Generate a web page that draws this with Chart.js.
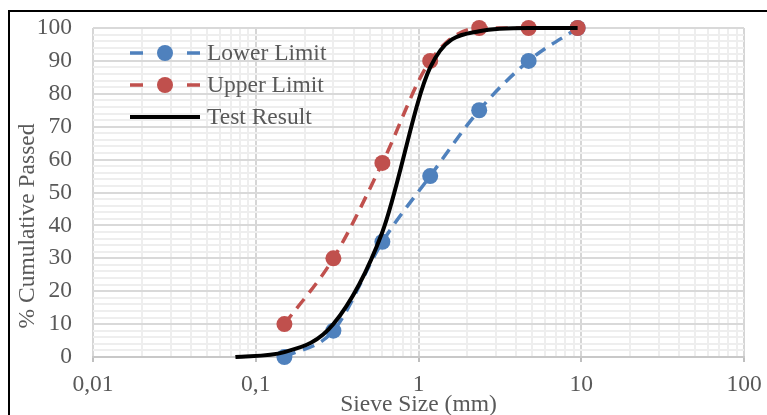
<!DOCTYPE html>
<html>
<head>
<meta charset="utf-8">
<title>Sieve analysis</title>
<script src="https://cdn.jsdelivr.net/npm/chart.js@4/dist/chart.umd.min.js"></script>
<style>
  html, body { margin: 0; padding: 0; background: #fff; overflow: hidden; }
  #frame { position: absolute; left: 8px; top: 10px; width: 900px; height: 500px; border: 2px solid #000; }
  #chart { position: absolute; left: 0; top: 0; }
</style>
</head>
<body>
<div id="frame"></div>
<canvas id="chart" width="767" height="415"></canvas>
<script>
// DATA
// -----------------------------------------------------------------------------
var sieveSizes = [0.15, 0.3, 0.6, 1.18, 2.36, 4.75, 9.5];
var lowerLimit = [0, 8, 35, 55, 75, 90, 100];
var upperLimit = [10, 30, 59, 90, 100, 100, 100];

var testSizes = [0.075, 0.15, 0.3, 0.6, 1.18, 2.36, 4.75, 9.5];
var testResult = [0, 1.5, 10, 38, 88, 99, 100, 100];

var xTickValues = [0.01, 0.1, 1, 10, 100];
var xTickLabels = ['0,01', '0,1', '1', '10', '100'];
var yTickValues = [0, 10, 20, 30, 40, 50, 60, 70, 80, 90, 100];

// STYLE
// -----------------------------------------------------------------------------
var serif = '"Liberation Serif", "Times New Roman", serif';
var textGrey = '#595959';
var blue = '#4F81BD';
var red = '#C0504D';

function toPoints(xs, ys) {
    return xs.map(function(x, i) { return { x: x, y: ys[i] }; });
}

// grid lines: every 1..9 inside each decade, every 2 % on y
var xGrid = [];
xTickValues.forEach(function(d, i) {
    xGrid.push(d);
    if (i < xTickValues.length - 1) {
        for (var k = 2; k <= 9; k++) xGrid.push(+(k * d).toPrecision(3));
    }
});
var yGrid = [];
for (var v = 0; v <= 100; v += 2) yGrid.push(v);

function isDecade(v) {
    return xTickValues.indexOf(v) !== -1;
}

// Legend + y title, drawn like the Excel original
var excelDecor = {
    id: 'excelDecor',
    afterDraw: function(chart) {
        var ctx = chart.ctx;
        ctx.save();
        chart.data.datasets.forEach(function(ds, i) {
            var y = 53 + i * 32;
            ctx.strokeStyle = ds.borderColor;
            ctx.lineWidth = ds.borderWidth;
            ctx.lineCap = 'butt';
            ctx.beginPath();
            if (ds.pointRadius > 0) {
                ctx.moveTo(130, y); ctx.lineTo(143, y);
                ctx.moveTo(187, y); ctx.lineTo(200, y);
                ctx.stroke();
                ctx.fillStyle = ds.borderColor;
                ctx.beginPath();
                ctx.arc(165, y, ds.pointRadius, 0, Math.PI * 2);
                ctx.fill();
            } else {
                ctx.moveTo(130, y); ctx.lineTo(200, y);
                ctx.stroke();
            }
            ctx.fillStyle = textGrey;
            ctx.font = '23.5px ' + serif;
            ctx.textAlign = 'left';
            ctx.textBaseline = 'alphabetic';
            ctx.fillText(ds.label, 207, y + 7);
        });

        ctx.translate(28, 226);
        ctx.rotate(-Math.PI / 2);
        ctx.textAlign = 'center';
        ctx.textBaseline = 'middle';
        ctx.fillStyle = textGrey;
        ctx.font = '23.5px ' + serif;
        ctx.fillText('% Cumulative Passed', 0, 0);
        ctx.restore();
    }
};

var chart = new Chart(document.getElementById('chart'), {
    type: 'line',
    data: {
        datasets: [{
            label: 'Lower Limit',
            data: toPoints(sieveSizes, lowerLimit),
            borderColor: blue,
            backgroundColor: blue,
            borderWidth: 3.5,
            borderDash: [12, 8],
            pointRadius: 8,
            pointBorderWidth: 0,
            cubicInterpolationMode: 'monotone',
            clip: false,
            order: 3
        }, {
            label: 'Upper Limit',
            data: toPoints(sieveSizes, upperLimit),
            borderColor: red,
            backgroundColor: red,
            borderWidth: 3.5,
            borderDash: [12, 8],
            pointRadius: 8,
            pointBorderWidth: 0,
            cubicInterpolationMode: 'monotone',
            clip: false,
            order: 2
        }, {
            label: 'Test Result',
            data: toPoints(testSizes, testResult),
            borderColor: '#000',
            backgroundColor: '#000',
            borderWidth: 4,
            pointRadius: 0,
            cubicInterpolationMode: 'monotone',
            clip: false,
            order: 1
        }]
    },
    options: {
        responsive: false,
        animation: false,
        layout: { padding: { left: 0, right: 23, top: 28, bottom: 0 } },
        plugins: {
            legend: { display: false },
            tooltip: { enabled: false }
        },
        scales: {
            x: {
                type: 'logarithmic',
                min: 0.01,
                max: 100,
                afterBuildTicks: function(scale) {
                    scale.ticks = xGrid.map(function(v) { return { value: v, major: isDecade(v) }; });
                },
                afterFit: function(scale) { scale.height = 58; },
                ticks: {
                    autoSkip: false,
                    maxRotation: 0,
                    padding: 5,
                    color: textGrey,
                    font: { family: serif, size: 23.5, lineHeight: 1.5 },
                    callback: function(value) {
                        var i = xTickValues.indexOf(value);
                        return i === -1 ? '' : xTickLabels[i];
                    }
                },
                grid: {
                    color: function(c) { return isDecade(c.tick.value) ? '#d6d6d6' : '#eeeeee'; },
                    lineWidth: 2,
                    tickLength: 5,
                    tickColor: function(c) { return isDecade(c.tick.value) ? '#bfbfbf' : 'rgba(0,0,0,0)'; }
                },
                border: { color: '#c8c8c8', width: 2 },
                title: {
                    display: true,
                    text: 'Sieve Size (mm)',
                    color: textGrey,
                    padding: 0,
                    font: { family: serif, size: 23.5, lineHeight: 0.85 }
                }
            },
            y: {
                min: 0,
                max: 100,
                afterBuildTicks: function(scale) {
                    scale.ticks = yGrid.map(function(v) { return { value: v }; });
                },
                afterFit: function(scale) { scale.width = 93; },
                ticks: {
                    autoSkip: false,
                    padding: 0,
                    color: textGrey,
                    font: { family: serif, size: 23.5 },
                    callback: function(value) {
                        return yTickValues.indexOf(value) === -1 ? '' : value;
                    }
                },
                grid: {
                    color: function(c) { return c.tick.value % 10 === 0 ? '#d9d9d9' : '#eeeeee'; },
                    lineWidth: 2,
                    tickLength: 21,
                    tickColor: 'rgba(0,0,0,0)'
                },
                border: { display: false }
            }
        }
    },
    plugins: [excelDecor]
});
</script>
</body>
</html>
